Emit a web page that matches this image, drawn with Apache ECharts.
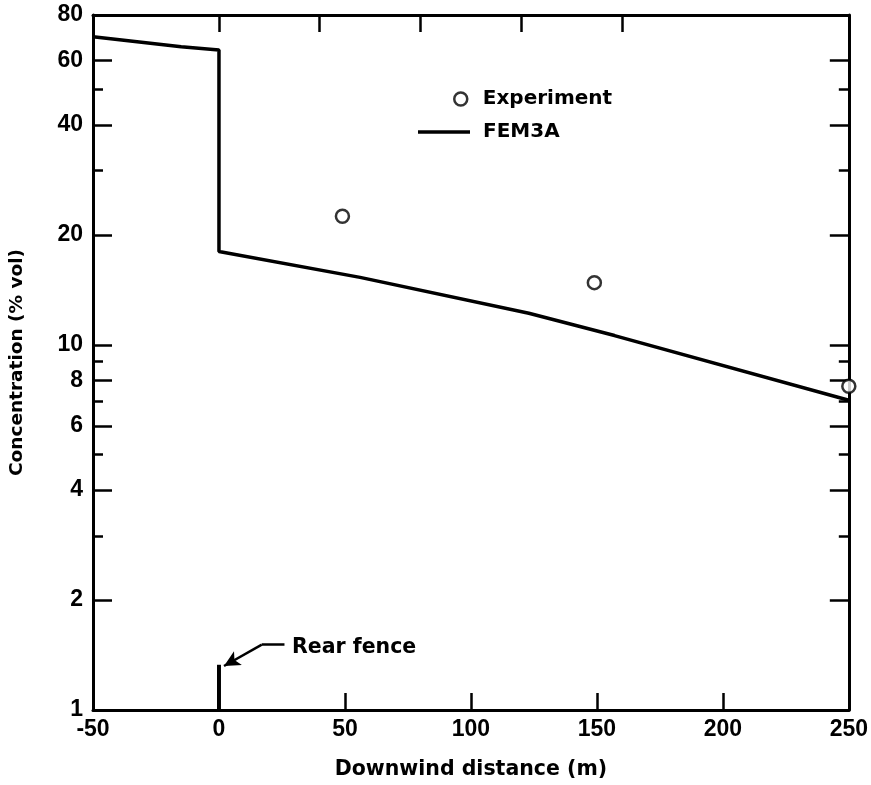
<!DOCTYPE html>
<html>
<head>
<meta charset="utf-8">
<style>html,body{margin:0;padding:0;background:#fff}#c{width:871px;height:785px}</style>
<script src="https://cdn.jsdelivr.net/npm/echarts@6/dist/echarts.min.js"></script>
</head>
<body>
<div id="c"></div>
<script>
// FEM3A model curve
const femX = [-50, -15, 0, 0, 56, 123, 157, 250];
const femY = [69.7, 65.5, 64.2, 18.0, 15.3, 12.2, 10.6, 7.05];
// Experiment points
const expX = [49, 149, 250];
const expY = [22.5, 14.8, 7.7];
// Rear fence marker
const fenceX = [0, 0];
const fenceY = [1, 1.33];
// Axis tick values
const xLabelVals = [-50, 0, 50, 100, 150, 200, 250];
const xBottomTicks = [50, 100, 150, 200];
const xTopTicks = [0, 40, 80, 120, 160];
const yLabelVals = [1, 2, 4, 6, 8, 10, 20, 40, 60, 80];
const yMajorTicks = [2, 4, 6, 8, 10, 20, 40, 60];
const yMinorTicks = [3, 5, 7, 9, 30, 50];

const TXT = 'DejaVu Sans';
const NUM = 'Liberation Sans';
const zip = (a, b) => a.map((v, i) => [v, b[i]]);

const chart = echarts.init(document.getElementById('c'), null, {renderer: 'canvas'});
const line = {color: '#000', width: 3};
function yAx(pos, ticks, len, showLabel, showLine, extra) {
  return Object.assign({
    type: 'log', logBase: 10, min: 1, max: 80, position: pos,
    axisLine: {show: showLine, onZero: false, lineStyle: line},
    axisTick: {show: true, inside: true, length: len, lineStyle: {color: '#000', width: 2.5}, customValues: ticks},
    axisLabel: showLabel ? {show: true, customValues: yLabelVals, color: '#000', fontFamily: NUM, fontWeight: 'bold', fontSize: 23, margin: 10} : {show: false},
    splitLine: {show: false}, minorTick: {show: false}
  }, extra || {});
}
chart.setOption({
  animation: false,
  backgroundColor: '#fff',
  grid: {left: 93, right: 16, top: 15, bottom: 71},
  legend: [
    {data: ['Experiment'], left: 448, top: 84, itemWidth: 20, itemHeight: 13, orient: 'vertical',
     itemStyle: {borderWidth: 2.5, borderColor: '#000', color: '#fff'},
     textStyle: {fontFamily: TXT, fontWeight: 'bold', fontSize: 20, color: '#000', padding: [0, 0, 0, 7]}},
    {data: [{name: 'FEM3A', icon: 'rect'}], left: 413, top: 117, itemWidth: 52, itemHeight: 3.5, orient: 'vertical',
     textStyle: {fontFamily: TXT, fontWeight: 'bold', fontSize: 20, color: '#000', padding: [0, 0, 0, 8]}}
  ],
  xAxis: [
    {type: 'value', min: -50, max: 250, interval: 50, position: 'bottom',
     axisLine: {show: true, onZero: false, lineStyle: line},
     axisTick: {show: true, inside: true, length: 17, lineStyle: {color: '#000', width: 2.5}, customValues: xBottomTicks},
     axisLabel: {color: '#000', fontFamily: NUM, fontWeight: 'bold', fontSize: 23, margin: 8, customValues: xLabelVals},
     splitLine: {show: false},
     name: 'Downwind distance (m)', nameLocation: 'middle', nameGap: 49,
     nameTextStyle: {fontFamily: TXT, fontWeight: 'bold', fontSize: 20.5, color: '#000'}},
    {type: 'value', min: -50, max: 250, position: 'top',
     axisLine: {show: true, onZero: false, lineStyle: line},
     axisTick: {show: true, inside: true, length: 17, lineStyle: {color: '#000', width: 2.5}, customValues: xTopTicks},
     axisLabel: {show: false}, splitLine: {show: false}}
  ],
  yAxis: [
    yAx('left', yMajorTicks, 19, true, true, {
      name: 'Concentration (% vol)', nameLocation: 'middle', nameGap: 66,
      nameTextStyle: {fontFamily: TXT, fontWeight: 'bold', fontSize: 18.5, color: '#000'}}),
    yAx('left', yMinorTicks, 10, false, false),
    yAx('right', yMajorTicks, 19, false, true),
    yAx('right', yMinorTicks, 10, false, false)
  ],
  series: [
    {name: 'FEM3A', type: 'line', data: zip(femX, femY), symbol: 'none', showSymbol: false,
     lineStyle: {color: '#000', width: 3.5}, itemStyle: {color: '#000'}, z: 3},
    {name: 'Experiment', type: 'scatter', data: zip(expX, expY), symbol: 'circle', symbolSize: 13,
     itemStyle: {color: '#fff', borderColor: '#000', borderWidth: 2.5}, z: 4},
    {name: 'fence', type: 'line', data: zip(fenceX, fenceY), symbol: 'none',
     lineStyle: {color: '#000', width: 4}, z: 3,
     markLine: {
       silent: true, animation: false,
       lineStyle: {color: '#000', width: 2.5, type: 'solid'},
       label: {show: false},
       data: [
         [{coord: [26, 1.51], symbol: 'none'}, {coord: [17, 1.51], symbol: 'none'}],
         [{coord: [17, 1.51], symbol: 'none'}, {coord: [2, 1.32], symbol: 'arrow', symbolSize: [12, 16]}]
       ]
     }}
  ],
  graphic: [
    {type: 'text', left: 292, top: 637, style: {text: 'Rear fence', fontFamily: TXT, fontWeight: 'bold', fontSize: 20.5, fill: '#000'}}
  ]
});
</script>
</body>
</html>
